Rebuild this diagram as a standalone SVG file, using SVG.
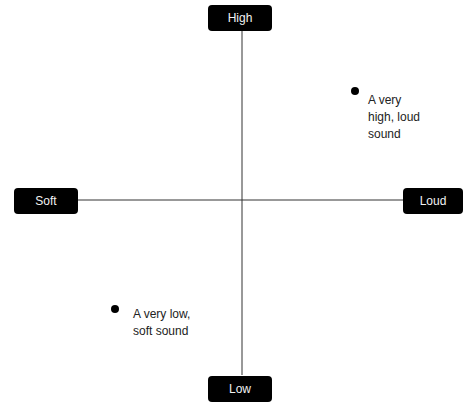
<svg xmlns="http://www.w3.org/2000/svg" width="465" height="405" viewBox="0 0 465 405">
<style>
.box{fill:#000;}
.lbl{font-family:"Liberation Sans",Arial,sans-serif;font-size:12px;fill:#f2f2f2;text-anchor:middle;}
.txt{font-family:"Liberation Sans",Arial,sans-serif;font-size:12px;fill:#222;}
.ax{stroke:#333;stroke-width:1;fill:none;}
</style>
<rect width="465" height="405" fill="#fff"/>
<g id="connectors">
<line class="ax" x1="242" y1="31" x2="242" y2="375"/>
<line class="ax" x1="78" y1="200" x2="403" y2="200"/>
</g>
<g id="high"><rect class="box" x="208" y="5" width="64" height="26" rx="4"/><text class="lbl" x="240" y="22">High</text></g>
<g id="low"><rect class="box" x="208" y="376" width="64" height="26" rx="4"/><text class="lbl" x="240" y="393">Low</text></g>
<g id="soft"><rect class="box" x="14" y="188" width="64" height="26" rx="4"/><text class="lbl" x="46" y="205">Soft</text></g>
<g id="loud"><rect class="box" x="403" y="188" width="60" height="26" rx="4"/><text class="lbl" x="433" y="205">Loud</text></g>
<g id="point-high">
<circle cx="355" cy="91" r="4" fill="#000"/>
<text class="txt" x="368" y="104">A very</text>
<text class="txt" x="368" y="121">high, loud</text>
<text class="txt" x="368" y="138">sound</text>
</g>
<g id="point-low">
<circle cx="115" cy="309" r="4" fill="#000"/>
<text class="txt" x="133" y="318">A very low,</text>
<text class="txt" x="133" y="335">soft sound</text>
</g>
</svg>
